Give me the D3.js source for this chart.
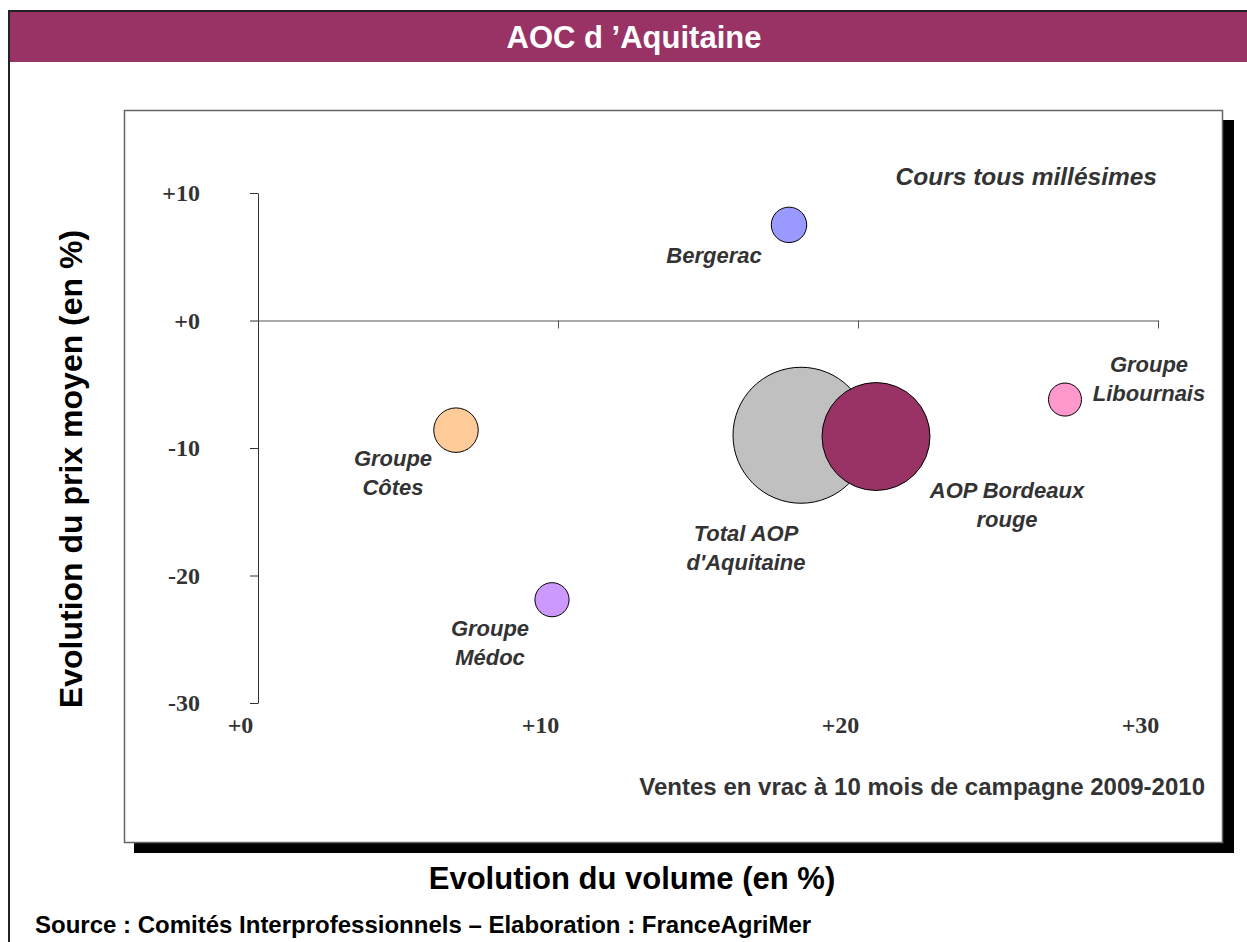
<!DOCTYPE html>
<html>
<head>
<meta charset="utf-8">
<script src="https://cdn.jsdelivr.net/npm/d3@7"></script>
<style>
  body { margin: 0; background: #fff; }
  svg { display: block; }
  .tick text { font-family: "Liberation Serif", "Times New Roman", serif; font-weight: bold; font-size: 24px; fill: #333; }
  .label { font-family: "Liberation Sans", Arial, sans-serif; font-weight: bold; font-style: italic; font-size: 22px; fill: #333; }
</style>
</head>
<body>
<div id="chart"></div>
<script>
// DATA
var names   = ["Total AOP d'Aquitaine", "AOP Bordeaux rouge", "Groupe Côtes", "Bergerac", "Groupe Médoc", "Groupe Libournais"];
var volume  = [18.1, 20.6, 6.6, 17.7, 9.8, 26.9];     // évolution du volume (%)
var prix    = [-9.0, -9.1, -8.6, 7.5, -21.9, -6.2];   // évolution du prix moyen (%)
var poids   = [100, 63, 10.7, 6.8, 6.3, 5.9];          // taille relative des bulles
var couleurs = ["#C0C0C0", "#993366", "#FFCC99", "#9999FF", "#CC99FF", "#FF99CC"];
var xTicks = [0, 10, 20, 30];
var yTicks = [10, 0, -10, -20, -30];

var width = 1247;
var height = 942;

// label placement around each bubble (px offsets from centre)
var labelLayout = {
  "Total AOP d'Aquitaine": { lines: ["Total AOP", "d'Aquitaine"], dx: -55, dy: 106 },
  "AOP Bordeaux rouge":    { lines: ["AOP Bordeaux", "rouge"],    dx: 131, dy: 61 },
  "Groupe Côtes":          { lines: ["Groupe", "Côtes"],          dx: -63, dy: 36 },
  "Bergerac":              { lines: ["Bergerac"],                 dx: -75, dy: 38 },
  "Groupe Médoc":          { lines: ["Groupe", "Médoc"],          dx: -62, dy: 36 },
  "Groupe Libournais":     { lines: ["Groupe", "Libournais"],     dx: 84, dy: -28 }
};

var data = names.map(function(n, i){
  return { name: n, x: volume[i], y: prix[i], size: poids[i], color: couleurs[i] };
});

var svg = d3.select("#chart").append("svg")
    .attr("width", width)
    .attr("height", height);

// outer frame + title bar
svg.append("rect")
    .attr("x", 9).attr("y", 11)
    .attr("width", width).attr("height", height)
    .attr("fill", "none").attr("stroke", "#222").attr("stroke-width", 2);
svg.append("rect")
    .attr("x", 10).attr("y", 12)
    .attr("width", width - 10).attr("height", 50)
    .attr("fill", "#993366");
svg.append("text")
    .attr("x", 634).attr("y", 48)
    .attr("text-anchor", "middle")
    .style("font-family", "Liberation Sans, Arial, sans-serif")
    .style("font-weight", "bold")
    .style("font-size", "31px")
    .style("fill", "#fff")
    .text("AOC d \u2019Aquitaine");

// plot box with shadow
svg.append("rect")
    .attr("x", 134).attr("y", 120)
    .attr("width", 1100).attr("height", 733)
    .attr("fill", "#000");
svg.append("rect")
    .attr("x", 124.5).attr("y", 110.5)
    .attr("width", 1098).attr("height", 732)
    .attr("fill", "#fff").attr("stroke", "#666").attr("stroke-width", 1.5);

// scales
var x = d3.scaleLinear().domain([0, 30]).range([258, 1158]);
var y = d3.scaleLinear().domain([-30, 10]).range([703, 193]);
var r = d3.scaleSqrt().domain([0, 100]).range([0, 68]);

var fmt = function(d){ return (d >= 0 ? "+" : "-") + Math.abs(d); };

// y axis
var yAxis = svg.append("g")
    .attr("transform", "translate(" + x(0) + ",0)")
    .call(d3.axisLeft(y).tickValues(yTicks).tickFormat(fmt)
        .tickSize(8).tickSizeOuter(0).tickPadding(50));
yAxis.select(".domain").attr("stroke", "#333");
yAxis.selectAll(".tick line").attr("stroke", "#333");

// x axis drawn at y = 0, labels pushed down under the plot
var xAxis = svg.append("g")
    .attr("transform", "translate(0," + y(0) + ")")
    .call(d3.axisBottom(x).tickValues(xTicks).tickFormat(fmt)
        .tickSize(8).tickSizeOuter(0));
xAxis.select(".domain").attr("stroke", "#555");
xAxis.selectAll(".tick line").attr("stroke", "#555")
    .filter(function(d){ return d === 0; }).remove();
xAxis.selectAll(".tick text")
    .attr("y", 742 - y(0) - 9)
    .attr("dy", "0")
    .attr("dx", -18);

// bubbles
svg.selectAll(".bubble")
    .data(data)
    .enter()
    .append("circle")
    .attr("class", "bubble")
    .attr("cx", function(d){ return x(d.x); })
    .attr("cy", function(d){ return y(d.y); })
    .attr("r", function(d){ return r(d.size); })
    .attr("fill", function(d){ return d.color; })
    .attr("stroke", "#000")
    .attr("stroke-width", 1);

// bubble labels
data.forEach(function(d){
  var lay = labelLayout[d.name];
  var t = svg.append("text")
      .attr("class", "label")
      .attr("text-anchor", "middle")
      .attr("x", x(d.x) + lay.dx)
      .attr("y", y(d.y) + lay.dy);
  lay.lines.forEach(function(line, i){
    t.append("tspan")
        .attr("x", x(d.x) + lay.dx)
        .attr("dy", i === 0 ? 0 : 29)
        .text(line);
  });
});

// notes inside the plot
svg.append("text")
    .attr("class", "label")
    .attr("x", 1157).attr("y", 185)
    .attr("text-anchor", "end")
    .style("font-size", "24.5px")
    .text("Cours tous millésimes");
svg.append("text")
    .attr("x", 1205).attr("y", 795)
    .attr("text-anchor", "end")
    .style("font-family", "Liberation Sans, Arial, sans-serif")
    .style("font-weight", "bold")
    .style("font-size", "24px")
    .style("fill", "#333")
    .text("Ventes en vrac à 10 mois de campagne 2009-2010");

// axis titles
svg.append("text")
    .attr("x", 632).attr("y", 889)
    .attr("text-anchor", "middle")
    .style("font-family", "Liberation Sans, Arial, sans-serif")
    .style("font-weight", "bold")
    .style("font-size", "31px")
    .style("fill", "#000")
    .text("Evolution du volume (en %)");
svg.append("text")
    .attr("transform", "translate(82,469) rotate(-90)")
    .attr("text-anchor", "middle")
    .style("font-family", "Liberation Sans, Arial, sans-serif")
    .style("font-weight", "bold")
    .style("font-size", "32px")
    .style("fill", "#000")
    .text("Evolution du prix moyen (en %)");

// source
svg.append("text")
    .attr("x", 35).attr("y", 933)
    .style("font-family", "Liberation Sans, Arial, sans-serif")
    .style("font-weight", "bold")
    .style("font-size", "24px")
    .style("fill", "#000")
    .text("Source : Comités Interprofessionnels – Elaboration : FranceAgriMer");
</script>
</body>
</html>
